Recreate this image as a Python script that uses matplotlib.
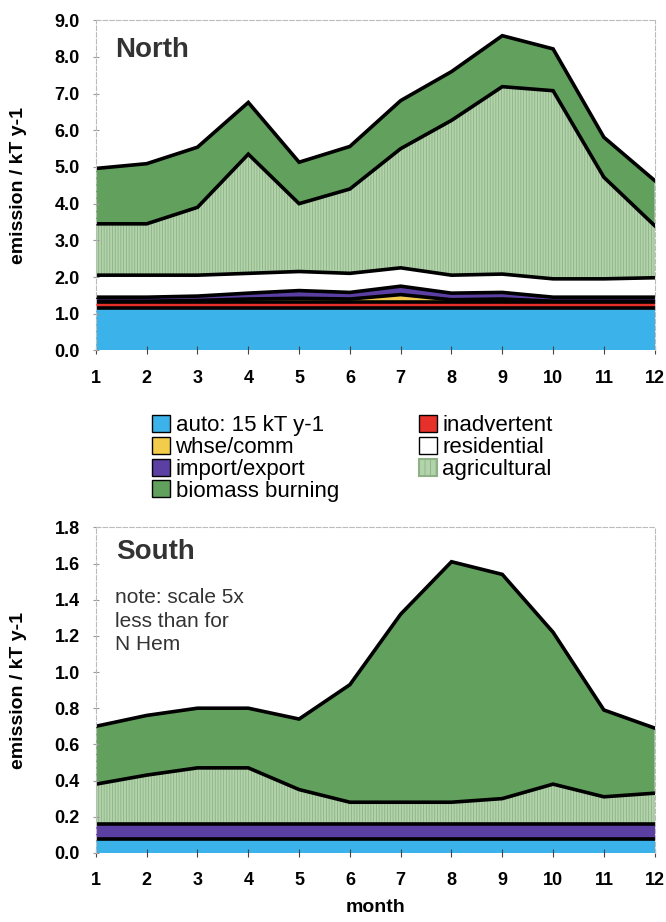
import matplotlib
matplotlib.use("Agg")
import matplotlib.pyplot as plt
from matplotlib.patches import Patch
import numpy as np

plt.rcParams['font.family'] = ['Liberation Sans', 'DejaVu Sans']
plt.rcParams['hatch.linewidth'] = 0.6

months = np.arange(1, 13)

# North hemisphere layers (increments, kT y-1)
n_auto = [1.15] * 12
n_inadv = [0.17] * 12
n_whse = [0.02, 0.02, 0.04, 0.08, 0.10, 0.08, 0.20, 0.06, 0.08, 0.02, 0.02, 0.02]
n_import = [0.11, 0.11, 0.12, 0.16, 0.21, 0.18, 0.23, 0.18, 0.18, 0.11, 0.11, 0.11]
n_resid = [0.60, 0.60, 0.57, 0.54, 0.52, 0.52, 0.50, 0.49, 0.50, 0.50, 0.50, 0.53]
n_agri = [1.40, 1.40, 1.85, 3.25, 1.85, 2.30, 3.25, 4.22, 5.11, 5.13, 2.77, 1.42]
n_biomass = [1.51, 1.64, 1.64, 1.41, 1.13, 1.16, 1.31, 1.33, 1.39, 1.14, 1.09, 1.23]

# South hemisphere layers
s_auto = [0.075] * 12
s_inadv = [0.0] * 12
s_whse = [0.0] * 12
s_import = [0.085] * 12
s_resid = [0.0] * 12
s_agri = [0.22, 0.27, 0.31, 0.31, 0.19, 0.12, 0.12, 0.12, 0.14, 0.22, 0.15, 0.17]
s_biomass = [0.32, 0.33, 0.33, 0.33, 0.39, 0.65, 1.04, 1.33, 1.24, 0.84, 0.48, 0.36]

labels = ['auto: 15 kT y-1', 'whse/comm', 'import/export', 'biomass burning',
          'inadvertent', 'residential', 'agricultural']

c_auto = '#3bb3ea'
c_inadv = '#e8302a'
c_whse = '#f2cc4a'
c_import = '#5b3fa3'
c_resid = '#ffffff'
c_agri = '#b3d3ab'
c_biomass = '#62a05d'
hatch_col = '#8cb286'


def draw(ax, layers):
    base = np.zeros(12)
    for vals, col, hatch in layers:
        vals = np.array(vals)
        if vals.max() == 0:
            continue
        top = base + vals
        if hatch:
            ax.fill_between(months, base, top, facecolor=col, edgecolor=hatch_col,
                            hatch=hatch, linewidth=0)
        else:
            ax.fill_between(months, base, top, facecolor=col, linewidth=0)
        ax.plot(months, top, color='black', lw=2.6, solid_joinstyle='miter')
        base = top


def style(ax, ymax, ystep):
    ax.set_xlim(1, 12)
    ax.set_ylim(0, ymax)
    ax.set_xticks(months)
    ax.set_yticks(np.arange(0, ymax + ystep / 2, ystep))
    ax.yaxis.set_major_formatter(matplotlib.ticker.FormatStrFormatter('%.1f'))
    for lab in ax.get_xticklabels() + ax.get_yticklabels():
        lab.set_fontweight('bold')
        lab.set_fontsize(13)
    ax.tick_params(axis='x', direction='inout', length=6, pad=11, color='#444444')
    ax.tick_params(axis='y', direction='inout', length=5, pad=9, color='#999999')
    for s in ax.spines.values():
        s.set_color('#bbbbbb')
        s.set_linewidth(0.8)
        s.set_linestyle((0, (4, 2)))
    ax.spines['bottom'].set_visible(False)
    ax.set_ylabel('emission / kT y-1', fontsize=14, fontweight='bold', labelpad=20)
    ax.set_zorder(1)


fig = plt.figure(figsize=(6.66, 9.22), dpi=100)

ax1 = fig.add_axes([0.144, 0.620, 0.839, 0.358])
draw(ax1, [(n_auto, c_auto, None), (n_inadv, c_inadv, None), (n_whse, c_whse, None),
           (n_import, c_import, None), (n_resid, c_resid, None),
           (n_agri, c_agri, '||||||'), (n_biomass, c_biomass, None)])
style(ax1, 9.0, 1.0)
ax1.text(0.034, 0.95, 'North', transform=ax1.transAxes, fontsize=20,
         fontweight='bold', color='#333333', va='top')

ax2 = fig.add_axes([0.144, 0.075, 0.839, 0.353])
draw(ax2, [(s_auto, c_auto, None), (s_inadv, c_inadv, None), (s_whse, c_whse, None),
           (s_import, c_import, None), (s_resid, c_resid, None),
           (s_agri, c_agri, '||||||'), (s_biomass, c_biomass, None)])
style(ax2, 1.8, 0.2)
ax2.text(0.036, 0.965, 'South', transform=ax2.transAxes, fontsize=20,
         fontweight='bold', color='#333333', va='top')
ax2.text(0.034, 0.813, 'note: scale 5x\nless than for\nN Hem', transform=ax2.transAxes,
         fontsize=15, color='#333333', va='top', linespacing=1.3)
ax2.set_xlabel('month', fontsize=14, fontweight='bold', labelpad=7)

handles = [Patch(facecolor=c_auto, edgecolor='black'),
           Patch(facecolor=c_whse, edgecolor='black'),
           Patch(facecolor=c_import, edgecolor='black'),
           Patch(facecolor=c_biomass, edgecolor='black'),
           Patch(facecolor=c_inadv, edgecolor='black'),
           Patch(facecolor=c_resid, edgecolor='black'),
           Patch(facecolor=c_agri, edgecolor=hatch_col, hatch='|||', lw=1.5)]
fig.legend(handles, labels, ncol=2, loc='center', bbox_to_anchor=(0.529, 0.503),
           frameon=False, fontsize=16, handlelength=0.8, handleheight=0.8,
           handletextpad=0.25, labelspacing=0.03, columnspacing=3.6)

fig.savefig('out.png', dpi=100)
